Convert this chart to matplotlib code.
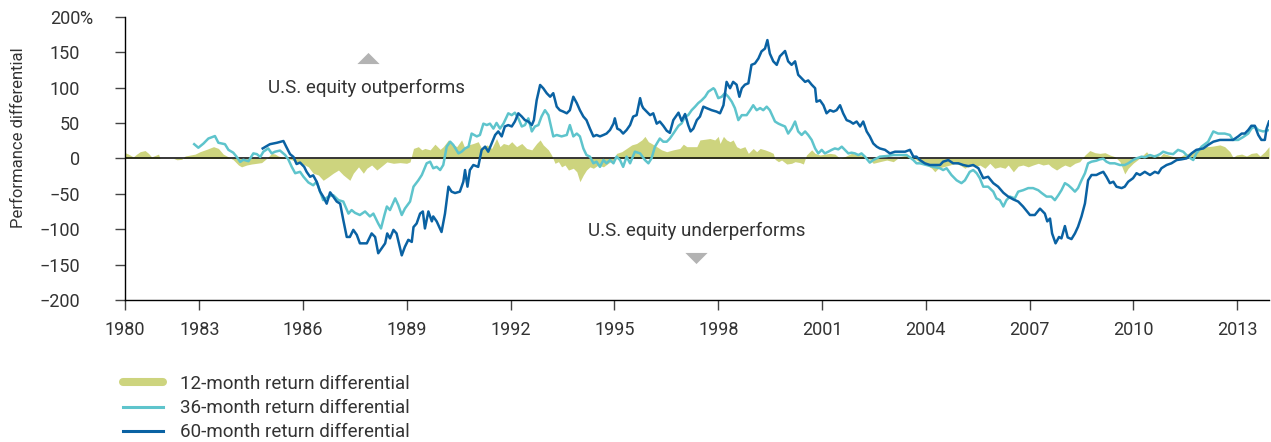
import matplotlib
matplotlib.use("Agg")
import matplotlib.pyplot as plt
from matplotlib.lines import Line2D
from matplotlib.path import Path
import matplotlib.transforms as mtrans

plt.rcParams['font.family'] = ['Roboto', 'DejaVu Sans']

# ---------------- data (decimal years, % differential) ----------------
t12 = [1980.85, 1980.95, 1981.09, 1981.19, 1981.29, 1981.43, 1981.53, 1981.62, 1981.72, 1981.82,
       1981.86, 1982.25, 1982.35, 1982.49, 1982.59, 1982.74, 1982.88, 1983.02, 1983.21, 1983.41,
       1983.55, 1983.69, 1983.84, 1983.98, 1984.13, 1984.22, 1984.37, 1984.51, 1984.66, 1984.80,
       1984.90, 1984.99, 1985.09, 1985.19, 1985.28, 1985.38, 1985.53, 1985.67, 1985.81, 1985.91,
       1986.05, 1986.15, 1986.29, 1986.44, 1986.58, 1986.73, 1986.87, 1987.02, 1987.16, 1987.35,
       1987.45, 1987.60, 1987.74, 1987.84, 1987.98, 1988.13, 1988.27, 1988.42, 1988.61, 1988.80,
       1988.99, 1989.09, 1989.19, 1989.33, 1989.43, 1989.52, 1989.67, 1989.81, 1989.96, 1990.05,
       1990.20, 1990.29, 1990.44, 1990.58, 1990.68, 1990.78, 1990.92, 1991.06, 1991.16, 1991.31,
       1991.45, 1991.59, 1991.69, 1991.79, 1991.93, 1992.03, 1992.17, 1992.32, 1992.46, 1992.61,
       1992.75, 1992.85, 1992.94, 1993.09, 1993.18, 1993.28, 1993.38, 1993.47, 1993.57, 1993.67,
       1993.81, 1993.91, 1994.00, 1994.10, 1994.19, 1994.29, 1994.39, 1994.53, 1994.68, 1994.82,
       1994.97, 1995.06, 1995.21, 1995.35, 1995.50, 1995.64, 1995.79, 1995.88, 1995.98, 1996.07,
       1996.22, 1996.36, 1996.51, 1996.70, 1996.89, 1996.99, 1997.09, 1997.23, 1997.38, 1997.47,
       1997.62, 1997.76, 1997.90, 1998.00, 1998.05, 1998.15, 1998.24, 1998.34, 1998.43, 1998.53,
       1998.63, 1998.77, 1998.87, 1999.01, 1999.11, 1999.21, 1999.35, 1999.49, 1999.59, 1999.64,
       1999.74, 1999.83, 1999.98, 2000.12, 2000.22, 2000.36, 2000.46, 2000.55, 2000.70, 2000.80,
       2000.94, 2001.08, 2001.23, 2001.37, 2001.52, 2001.66, 2001.85, 2002.00, 2002.14, 2002.29,
       2002.48, 2002.67, 2002.87, 2003.06, 2003.25, 2003.44, 2003.59, 2003.73, 2003.88, 2004.02,
       2004.17, 2004.26, 2004.36, 2004.50, 2004.70, 2004.84, 2004.99, 2005.13, 2005.27, 2005.42,
       2005.56, 2005.71, 2005.85, 2005.99, 2006.14, 2006.29, 2006.38, 2006.53, 2006.67, 2006.81,
       2006.96, 2007.10, 2007.25, 2007.39, 2007.54, 2007.63, 2007.78, 2007.92, 2008.02, 2008.16,
       2008.31, 2008.45, 2008.60, 2008.74, 2008.89, 2009.03, 2009.18, 2009.32, 2009.46, 2009.61,
       2009.75, 2009.85, 2009.99, 2010.14, 2010.28, 2010.38, 2010.48, 2010.62, 2010.77, 2010.86,
       2011.01, 2011.15, 2011.29, 2011.44, 2011.58, 2011.73, 2011.87, 2012.02, 2012.16, 2012.31,
       2012.50, 2012.64, 2012.79, 2012.88, 2012.98, 2013.13, 2013.27, 2013.41, 2013.56, 2013.66,
       2013.80, 2013.92]
v12 = [8, 6, 2, 6, 9.4, 11, 7, 2, 4, 6,
       0, 0, -2, -1.4, 3.3, 4.7, 6, 9.4, 12.7, 16.5,
       14, 6, 2, -2, -9.4, -12, -9.4, -8, -7, -6,
       -2, 2, 7, 6, 3.3, 2, 0, -2, -5, -7,
       -9.4, -12, -21, -23.5, -31, -26, -21, -16.5, -23.5, -31,
       -21, -12, -21, -14, -9.4, -16.5, -11, -5, -7, -6,
       -7, -5, 14, 16.5, 12, 14, 12, 20, 12.7, 16.5,
       26, 21, 16.5, 26, 14, 19, 21, 23.5, 14, 19,
       14, 28, 16.5, 21, 19, 23.5, 16.5, 21, 14, 12,
       21, 26, 19, 12, 4.7, -7, -4.7, -12, -9.4, -16.5,
       -14, -19, -33, -23.5, -16.5, -12, -14, -9.4, -12, -7,
       -2.4, 7, 9.4, 14, 19, 21, 26, 31, 23.5, 21,
       16.5, 12, 9.4, 12, 14, 20, 16.5, 16.5, 16.5, 26,
       27, 28, 26, 31, 21, 31, 26, 23.5, 26, 16.5,
       14, 16.5, 7, 14, 9.4, 14, 12, 9.4, 7, -1.4,
       -4.7, -2.4, -8, -7, -4.7, -6, -8, 4.7, 12, 7,
       4.7, 6, 7, 6, 0, 2.4, 7, 6, 4.7, 2.4,
       -7, -4.7, -2.4, -4.7, 2.4, 4.7, 2.4, -2.4, -7, -9.4,
       -14, -19, -14, -12, -9.4, -7, -9.4, -14, -9.4, -12,
       -9.4, -14, -7, -14, -12, -14, -9.4, -19, -11, -9.4,
       -12, -9.4, -7, -9.4, -8, -12, -16.5, -12, -9.4, -12,
       -7, -4.7, 4.7, 11, 8, 7, 8, 4.7, 2.4, -4.7,
       -22, -14, -7, -1.4, 4.7, 9.4, 3.3, 6, 2.4, 7,
       4.7, 2.4, 0, 4.7, 7, 9.4, 12, 16.5, 16.5, 17.4,
       19, 16.5, 9.4, 1.4, 4.7, 6, 3.3, 7, 8, 3.3,
       9.4, 16.5]

t36 = [1982.85, 1982.97, 1983.12, 1983.26, 1983.45, 1983.55, 1983.74, 1983.84, 1983.98, 1984.08,
       1984.18, 1984.27, 1984.42, 1984.56, 1984.66, 1984.76, 1984.85, 1984.99, 1985.09, 1985.19,
       1985.33, 1985.48, 1985.57, 1985.67, 1985.77, 1985.91, 1986.01, 1986.15, 1986.29, 1986.39,
       1986.49, 1986.58, 1986.73, 1986.87, 1987.02, 1987.16, 1987.31, 1987.40, 1987.50, 1987.64,
       1987.79, 1987.93, 1988.03, 1988.17, 1988.25, 1988.35, 1988.42, 1988.51, 1988.66, 1988.75,
       1988.85, 1988.94, 1989.09, 1989.19, 1989.33, 1989.43, 1989.57, 1989.67, 1989.76, 1989.86,
       1989.96, 1990.05, 1990.15, 1990.25, 1990.34, 1990.49, 1990.58, 1990.68, 1990.78, 1990.87,
       1991.02, 1991.11, 1991.21, 1991.31, 1991.40, 1991.50, 1991.59, 1991.69, 1991.79, 1991.93,
       1992.03, 1992.12, 1992.22, 1992.32, 1992.41, 1992.51, 1992.61, 1992.70, 1992.80, 1992.89,
       1992.99, 1993.09, 1993.23, 1993.33, 1993.47, 1993.62, 1993.71, 1993.81, 1993.91, 1994.00,
       1994.10, 1994.19, 1994.29, 1994.39, 1994.48, 1994.58, 1994.68, 1994.77, 1994.87, 1994.97,
       1995.06, 1995.16, 1995.25, 1995.35, 1995.45, 1995.59, 1995.74, 1995.88, 1995.98, 1996.07,
       1996.17, 1996.31, 1996.41, 1996.51, 1996.60, 1996.70, 1996.85, 1996.94, 1997.04, 1997.13,
       1997.23, 1997.33, 1997.42, 1997.52, 1997.62, 1997.71, 1997.86, 1997.90, 1998.00, 1998.10,
       1998.19, 1998.29, 1998.39, 1998.48, 1998.58, 1998.68, 1998.82, 1998.92, 1999.01, 1999.11,
       1999.21, 1999.30, 1999.40, 1999.49, 1999.64, 1999.74, 1999.83, 1999.93, 2000.02, 2000.12,
       2000.22, 2000.31, 2000.41, 2000.51, 2000.60, 2000.70, 2000.80, 2000.89, 2000.99, 2001.08,
       2001.18, 2001.28, 2001.37, 2001.47, 2001.57, 2001.66, 2001.76, 2001.85, 2001.95, 2002.05,
       2002.14, 2002.24, 2002.38, 2002.48, 2002.58, 2002.67, 2002.87, 2003.06, 2003.25, 2003.44,
       2003.54, 2003.64, 2003.73, 2003.83, 2004.02, 2004.22, 2004.41, 2004.50, 2004.60, 2004.74,
       2004.89, 2005.03, 2005.13, 2005.27, 2005.37, 2005.47, 2005.56, 2005.66, 2005.80, 2005.95,
       2006.04, 2006.14, 2006.24, 2006.33, 2006.43, 2006.57, 2006.67, 2006.81, 2006.96, 2007.10,
       2007.25, 2007.35, 2007.49, 2007.63, 2007.73, 2007.83, 2007.92, 2008.02, 2008.12, 2008.21,
       2008.31, 2008.40, 2008.50, 2008.60, 2008.69, 2008.79, 2008.93, 2009.03, 2009.13, 2009.22,
       2009.32, 2009.46, 2009.61, 2009.75, 2009.85, 2009.99, 2010.09, 2010.24, 2010.33, 2010.48,
       2010.62, 2010.77, 2010.86, 2011.01, 2011.15, 2011.29, 2011.44, 2011.58, 2011.73, 2011.82,
       2011.97, 2012.16, 2012.31, 2012.45, 2012.64, 2012.79, 2012.88, 2013.03, 2013.17, 2013.32,
       2013.41, 2013.51, 2013.61, 2013.75, 2013.92]
v36 = [20, 15, 21, 28, 31.5, 22, 20, 12, 8, 2,
       -5, -2, -4, 7, 6, 2, 9.4, 14, 7, 9.4,
       11, 4.7, -1.4, -12, -21, -19, -26, -34, -38, -33,
       -47, -59, -54, -52, -59, -61, -78, -73, -77, -80,
       -75, -82, -78, -92, -99, -80, -68, -73, -56.5, -66,
       -80, -71, -61, -40, -31, -23.5, -7, -4.7, -14, -12,
       -16.5, -9.4, 16.5, 23.5, 19, 7, 9.4, 14, 16.5, 35,
       31, 33, 49, 47, 49, 42, 50, 42, 49, 63.6,
       61, 64.5, 56.5, 45, 47, 56.5, 38, 45, 47, 59,
       68, 61, 31, 33, 31, 33, 47, 31, 35, 31,
       14, 4.7, 2.4, -7, -4.7, -12, -2.4, -7, -2.4, -7,
       2.4, -2.4, -12, 2.4, -7, 9.4, 7, -2.4, -7, 0,
       16.5, 28, 23.5, 23.5, 28, 35, 46, 49.4, 59, 61,
       68, 73, 78, 82, 87, 94, 99, 97, 85, 87,
       92, 87, 80, 71, 54, 61, 61, 68, 75, 68,
       71, 68, 73, 68, 52, 49, 47, 45, 35, 42,
       52, 38, 33, 38, 33, 26, 14, 7, 12, 7,
       9.4, 12, 14, 12.7, 16.5, 12, 7, 8, 7, 4.7,
       7, 2.4, -6, -2.4, 0, 2.4, 3.3, 4.7, 4.7, 4.7,
       1.4, -2.4, -7, -7, -9.4, -12, -14, -16.5, -14, -23.5,
       -31, -35, -31, -19, -16.5, -21, -28, -40, -40, -47,
       -56.5, -59, -68, -59, -54, -56.5, -47, -45, -42, -42,
       -45, -49, -54, -54, -59, -52, -45, -35, -38, -42,
       -47, -42, -31, -21, -7, -4.7, -3.3, -1.4, -0.5, -4.7,
       -7, -7, -9.4, -9.4, -7, -2.4, 0, 2.4, 1.4, 4.7,
       2.4, 6, 9.4, 7, 6, 12, 9.4, 2.4, -2.4, 7,
       16.5, 23.5, 38, 35, 35, 33, 26, 26, 30, 35,
       42, 45, 40, 38, 40]

t60 = [1984.83, 1985.04, 1985.24, 1985.43, 1985.51, 1985.62, 1985.72, 1985.81, 1985.91, 1986.03,
       1986.10, 1986.20, 1986.29, 1986.39, 1986.49, 1986.58, 1986.68, 1986.78, 1986.87, 1986.97,
       1987.07, 1987.16, 1987.26, 1987.35, 1987.45, 1987.55, 1987.64, 1987.84, 1987.98, 1988.08,
       1988.17, 1988.27, 1988.37, 1988.43, 1988.51, 1988.61, 1988.70, 1988.85, 1988.94, 1989.04,
       1989.14, 1989.19, 1989.28, 1989.38, 1989.46, 1989.52, 1989.62, 1989.72, 1989.76, 1989.86,
       1990.00, 1990.10, 1990.20, 1990.29, 1990.39, 1990.53, 1990.63, 1990.68, 1990.75, 1990.82,
       1990.92, 1991.06, 1991.16, 1991.26, 1991.35, 1991.45, 1991.55, 1991.64, 1991.74, 1991.83,
       1991.93, 1992.03, 1992.12, 1992.22, 1992.32, 1992.41, 1992.51, 1992.61, 1992.67, 1992.75,
       1992.85, 1992.94, 1993.04, 1993.14, 1993.23, 1993.33, 1993.42, 1993.52, 1993.62, 1993.71,
       1993.81, 1993.91, 1994.00, 1994.10, 1994.19, 1994.29, 1994.39, 1994.48, 1994.58, 1994.68,
       1994.77, 1994.87, 1994.97, 1995.01, 1995.08, 1995.16, 1995.25, 1995.35, 1995.45, 1995.54,
       1995.64, 1995.74, 1995.79, 1995.83, 1995.93, 1996.03, 1996.12, 1996.22, 1996.31, 1996.41,
       1996.51, 1996.60, 1996.70, 1996.85, 1996.94, 1997.04, 1997.13, 1997.20, 1997.28, 1997.38,
       1997.47, 1997.57, 1997.66, 1997.81, 1997.95, 1998.05, 1998.15, 1998.24, 1998.34, 1998.43,
       1998.53, 1998.61, 1998.68, 1998.77, 1998.87, 1998.96, 1999.06, 1999.16, 1999.25, 1999.35,
       1999.42, 1999.49, 1999.59, 1999.69, 1999.78, 1999.93, 2000.02, 2000.12, 2000.22, 2000.31,
       2000.41, 2000.51, 2000.60, 2000.70, 2000.80, 2000.84, 2000.94, 2001.04, 2001.13, 2001.23,
       2001.33, 2001.42, 2001.52, 2001.61, 2001.71, 2001.81, 2001.90, 2002.00, 2002.10, 2002.19,
       2002.29, 2002.38, 2002.48, 2002.58, 2002.67, 2002.82, 2002.96, 2003.11, 2003.25, 2003.40,
       2003.54, 2003.64, 2003.73, 2003.83, 2003.97, 2004.12, 2004.26, 2004.41, 2004.50, 2004.65,
       2004.79, 2004.94, 2005.08, 2005.23, 2005.37, 2005.52, 2005.66, 2005.80, 2005.95, 2006.09,
       2006.24, 2006.38, 2006.53, 2006.67, 2006.81, 2007.01, 2007.15, 2007.30, 2007.44, 2007.51,
       2007.59, 2007.65, 2007.75, 2007.85, 2007.92, 2008.02, 2008.10, 2008.21, 2008.31, 2008.40,
       2008.50, 2008.60, 2008.69, 2008.79, 2008.93, 2009.03, 2009.13, 2009.22, 2009.32, 2009.42,
       2009.51, 2009.66, 2009.75, 2009.85, 2009.99, 2010.09, 2010.19, 2010.33, 2010.48, 2010.62,
       2010.72, 2010.81, 2010.96, 2011.10, 2011.25, 2011.39, 2011.54, 2011.68, 2011.82, 2012.02,
       2012.16, 2012.31, 2012.50, 2012.69, 2012.88, 2013.03, 2013.13, 2013.22, 2013.32, 2013.41,
       2013.51, 2013.61, 2013.70, 2013.80, 2013.85, 2013.92]
v60 = [14, 20, 22, 24.5, 16.5, 6, 2, -8, -6, -12,
       -19, -26, -24, -33, -47, -54, -64, -48, -54, -61,
       -64, -87, -111, -111, -101, -108, -120, -120, -106, -111,
       -134, -127, -120, -106, -113, -101, -106, -137, -125, -115,
       -118, -97, -92, -78, -75, -99, -75, -89, -82, -89,
       -104, -78, -40, -47, -49, -47, -33, -16.5, -40, -16.5,
       -9.4, -12, 12, 16.5, 9.4, 21, 33, 38, 31, 45,
       47, 45, 52, 63.6, 59, 54, 52, 47, 54, 82,
       103.6, 99, 92, 87, 92, 73, 68, 66, 63.6, 68,
       87, 78, 68, 59, 54, 42, 31, 33, 31, 33,
       35, 40, 49, 56.5, 42, 40, 35, 40, 47, 59,
       61, 85, 75, 71, 66, 61, 63.6, 49, 52, 46,
       39, 36, 54, 64.5, 53, 62.6, 47, 38, 42, 54,
       59, 73, 71, 68, 66, 63.6, 75, 108, 99, 108,
       104, 87, 99, 104, 106, 132, 134, 141, 151, 155,
       167, 148, 137, 132, 144, 151.6, 137, 132, 137, 118,
       113, 108, 110, 104, 99, 80, 82, 75, 63.6, 68,
       66, 68, 75, 63.6, 54, 52, 49, 52, 45, 52,
       38, 31, 21, 16.5, 14, 12, 7, 9.4, 9.4, 9.4,
       12, 2.4, 2.4, -2.4, -7, -9.4, -9.4, -9.4, -4.7, -2.4,
       -7, -7, -9.4, -11, -9.4, -14, -28, -26, -35, -40,
       -48.5, -54, -58, -61, -68, -80, -80, -71, -78, -89,
       -85, -106, -120, -111, -113, -95.6, -111.6, -114, -106, -96.5,
       -82, -63.6, -31, -23.5, -23.5, -21, -19, -26, -35, -33,
       -40, -42, -40, -33, -28, -21, -23.5, -19, -23.5, -19,
       -21, -14, -9.4, -7, -2.4, -1.4, 0, 7, 12, 14,
       19, 23.5, 26, 26, 26, 31, 35, 35, 40, 46,
       46, 33, 26, 26, 42, 52]

year_labels = ['1980', '1983', '1986', '1989', '1992', '1995', '1998',
               '2001', '2004', '2007', '2010', '2013']
y_ticks = [-200, -150, -100, -50, 0, 50, 100, 150, 200]
y_labels = ['\u2212200', '\u2212150', '\u2212100', '\u221250', '0', '50', '100', '150', '200']
series_labels = ['12-month return differential', '36-month return differential',
                 '60-month return differential']

OLIVE = '#cdd47e'
TEAL = '#5ec4cc'
BLUE = '#0a62a3'
TXT = '#333333'
FS = 13

W, H = 1271, 442
fig = plt.figure(figsize=(W / 100, H / 100), dpi=100)
ax = fig.add_axes([125 / W, 1 - 300 / H, 1144 / W, 283.3 / H])

ax.fill_between(t12, v12, 0, color=OLIVE, linewidth=0, zorder=1)
ax.axhline(0, color='black', lw=1.1, zorder=2)
ax.plot(t36, v36, color=TEAL, lw=1.8, zorder=3, solid_joinstyle='round')
ax.plot(t60, v60, color=BLUE, lw=1.8, zorder=4, solid_joinstyle='round')

x_start = t12[0]
ax.set_xlim(x_start, 2013.92)
ax.set_ylim(-200, 200)

xt = [x_start] + [int(s) for s in year_labels[1:]]
ax.set_xticks(xt)
ax.set_xticklabels(year_labels)
ax.set_yticks(y_ticks)
ax.set_yticklabels(y_labels)

for s in ['top', 'right']:
    ax.spines[s].set_visible(False)
for s in ['left', 'bottom']:
    ax.spines[s].set_color('black')
    ax.spines[s].set_linewidth(1.0)

ax.tick_params(axis='x', length=7.2, width=1.0, color='#444444', pad=8,
               labelsize=FS, labelcolor=TXT, direction='out')
ax.tick_params(axis='y', length=7.2, width=1.0, color='#444444', pad=25,
               labelsize=FS, labelcolor=TXT, direction='out')
for lab in ax.get_yticklabels():
    lab.set_horizontalalignment('right')

# trailing percent sign on the top label
trans = mtrans.blended_transform_factory(ax.transAxes, ax.transData)
ax.text((79.5 - 125) / 1144, 200, '%', transform=trans, ha='left',
        va='center_baseline', fontsize=FS, color=TXT, clip_on=False)

fig.text(19 / W, 1 - 138 / H, 'Performance differential', rotation=90,
         ha='center', va='center', fontsize=12, color=TXT)

# annotations
tri = Path([(-1, -0.5), (1, -0.5), (0, 0.5), (-1, -0.5)],
           [Path.MOVETO, Path.LINETO, Path.LINETO, Path.CLOSEPOLY])
tri_dn = Path([(-1, 0.5), (1, 0.5), (0, -0.5), (-1, 0.5)],
              [Path.MOVETO, Path.LINETO, Path.LINETO, Path.CLOSEPOLY])
ax.plot([1987.87], [141.7], marker=tri, markersize=16, color='#b3b3b3',
        markeredgewidth=0, linestyle='none', zorder=5)
ax.plot([1997.35], [-140.8], marker=tri_dn, markersize=16, color='#b3b3b3',
        markeredgewidth=0, linestyle='none', zorder=5)
ax.text(1987.84, 100, 'U.S. equity outperforms', ha='center', va='center',
        fontsize=13.5, color=TXT)
ax.text(1997.38, -102, 'U.S. equity underperforms', ha='center', va='center',
        fontsize=13.5, color=TXT)

handles = [Line2D([], [], color=OLIVE, lw=5.8, solid_capstyle='round'),
           Line2D([], [], color=TEAL, lw=2.2),
           Line2D([], [], color=BLUE, lw=2.2)]
leg = fig.legend(handles, series_labels, loc='upper left',
                 bbox_to_anchor=(123 / W, 1 - 375 / H), frameon=False,
                 fontsize=13.5, handlelength=2.15, handletextpad=0.9,
                 labelspacing=0.33, borderaxespad=0, borderpad=0)
for t in leg.get_texts():
    t.set_color(TXT)

fig.savefig('out.png', dpi=100)
